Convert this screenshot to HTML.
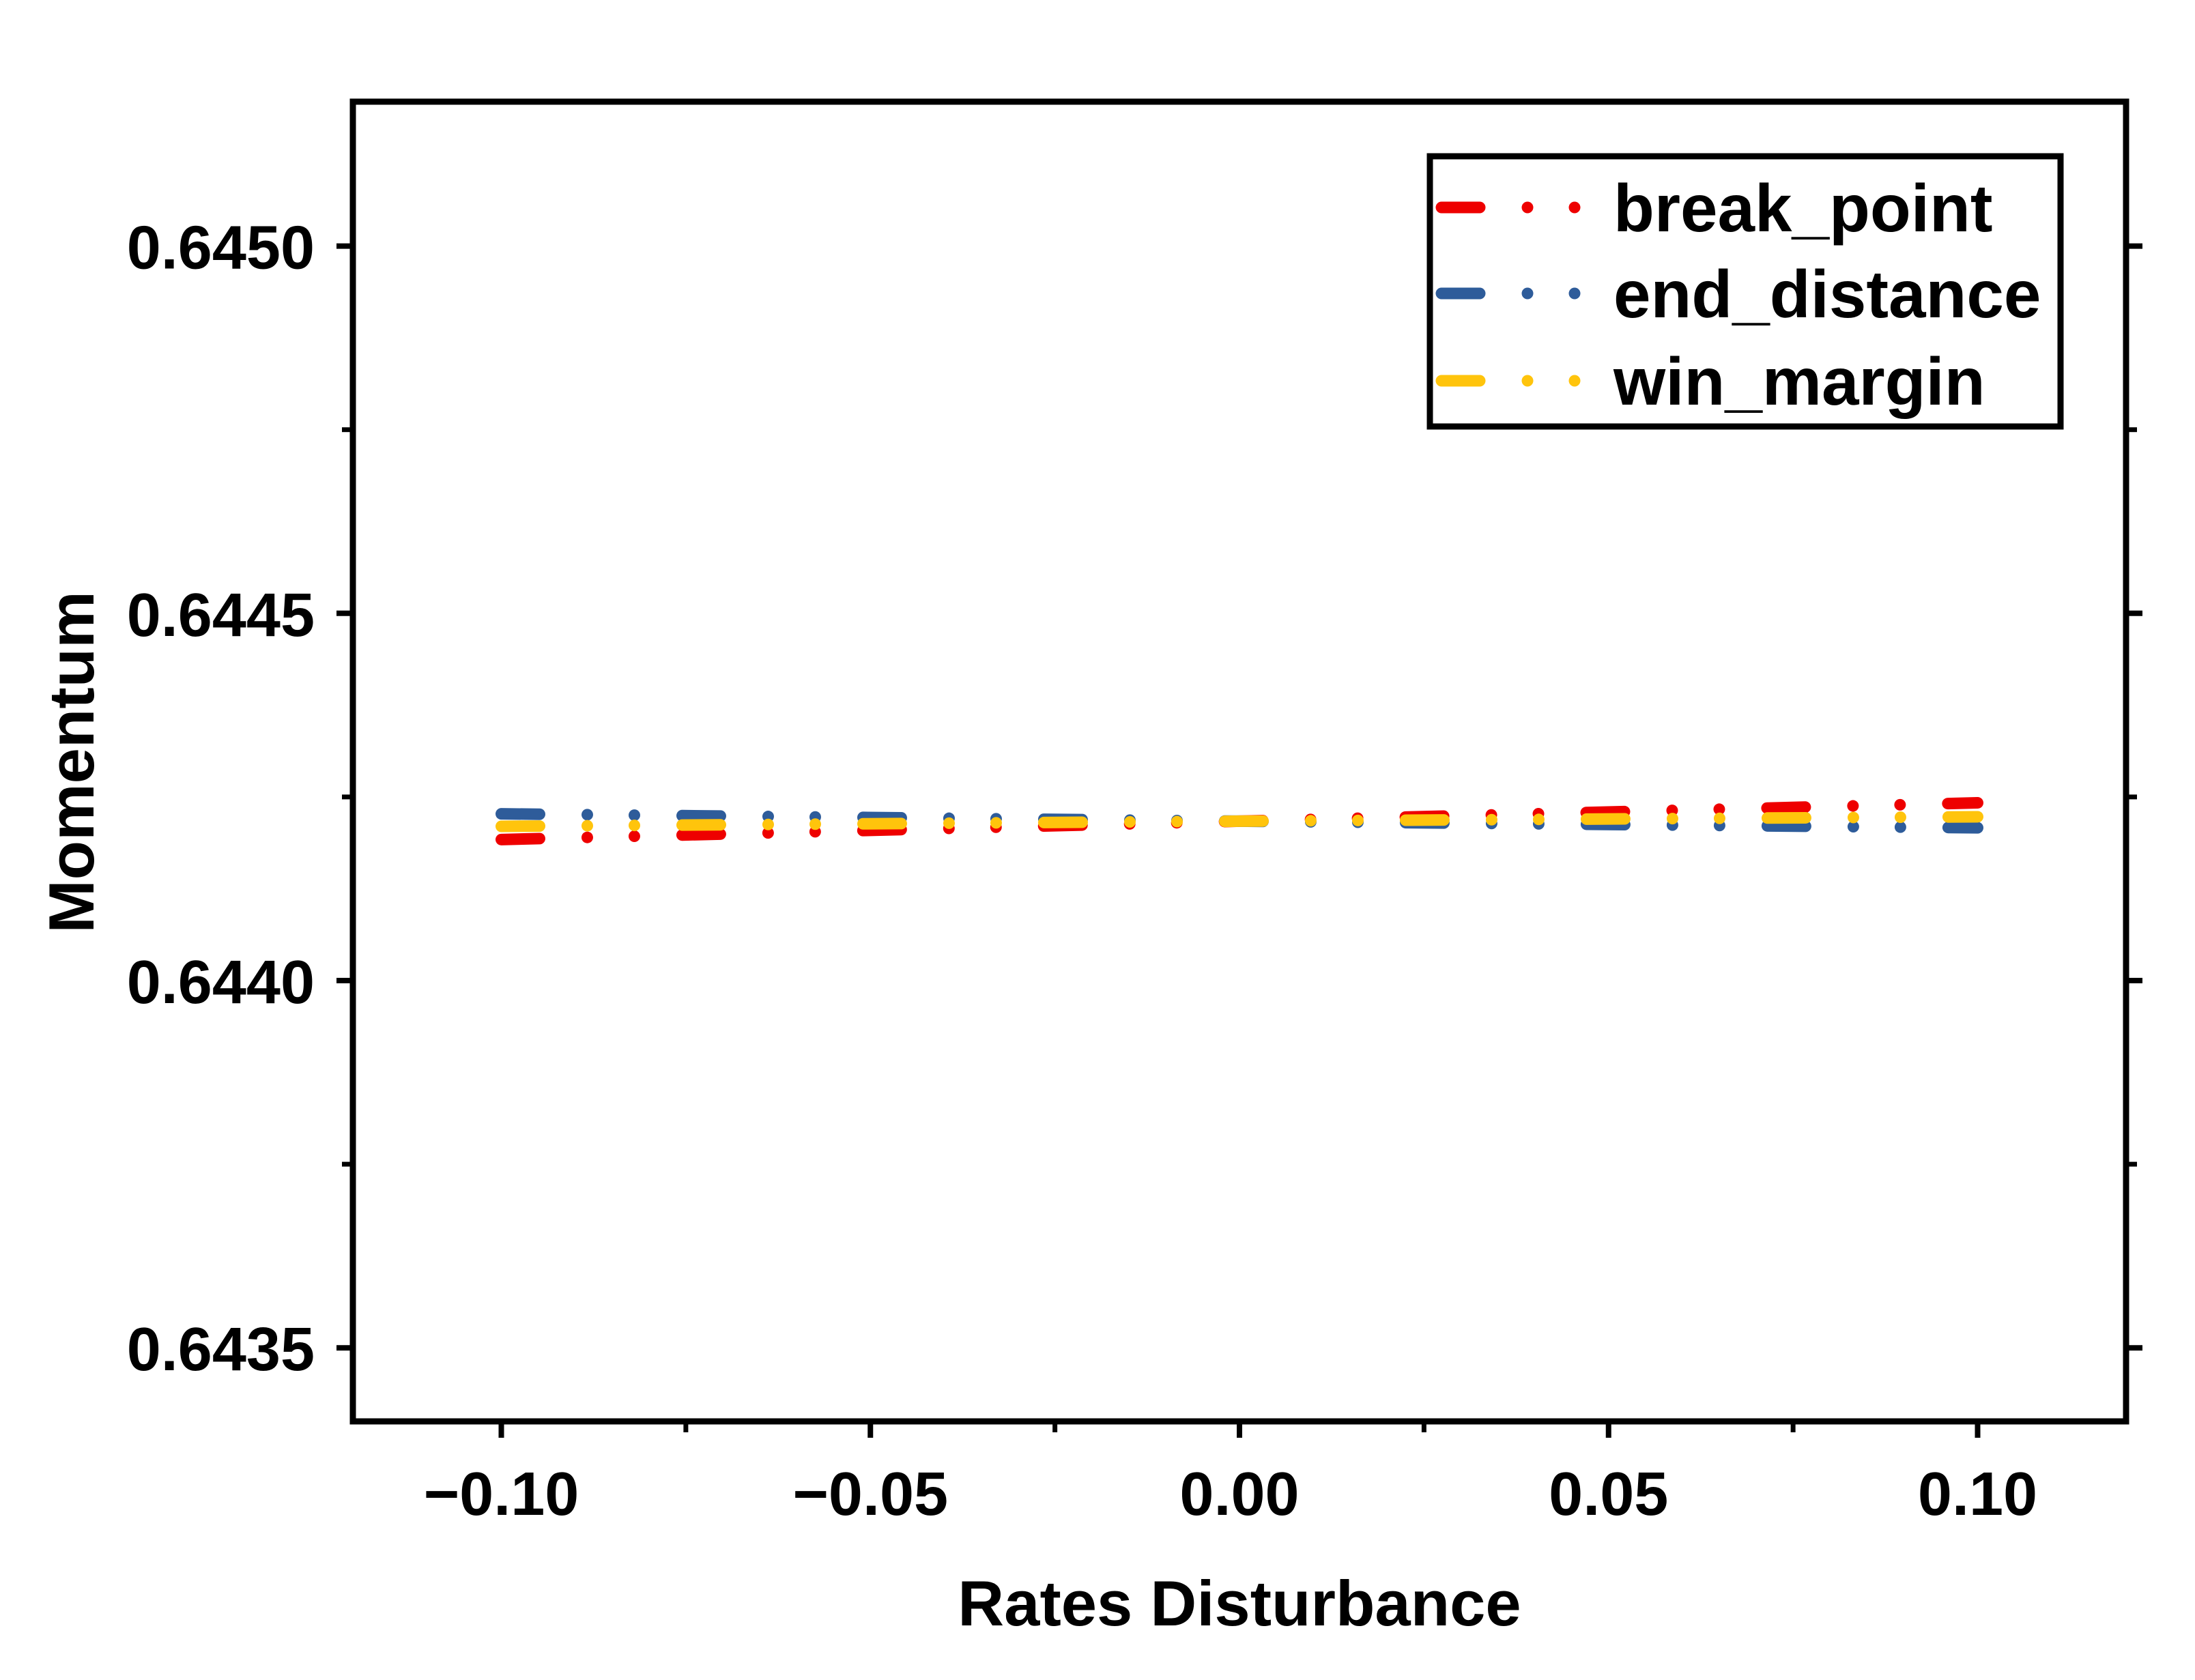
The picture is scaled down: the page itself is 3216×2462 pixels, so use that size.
<!DOCTYPE html>
<html><head><meta charset="utf-8"><style>
html,body{margin:0;padding:0;background:#fff}
svg{display:block}
text{font-family:"Liberation Sans",Arial,sans-serif;font-weight:bold;fill:#000}
</style></head><body>
<svg id="chart" width="3216" height="2462" viewBox="0 0 3216 2462" xmlns="http://www.w3.org/2000/svg">
<g id="ticks"></g>
<g id="series"></g>
<rect x="517" y="149" width="2598" height="1934" fill="none" stroke="#000" stroke-width="9"/>
<text x="1816" y="2382" font-size="94" text-anchor="middle">Rates Disturbance</text>
<text x="0" y="0" font-size="94" text-anchor="middle" transform="translate(137,1117) rotate(-90)">Momentum</text>
<g>
<rect x="2095" y="229" width="924" height="396" fill="#fff" stroke="#000" stroke-width="9"/>
<g id="legend-entries"></g>
</g>
</svg>
<script>
const xValues = [-0.1, 0.0, 0.1];
const seriesNames = ["break_point", "end_distance", "win_margin"];
const breakPoint = [0.644192, 0.644217, 0.644242];
const endDistance = [0.644227, 0.644217, 0.644208];
const winMargin = [0.644210, 0.644217, 0.644223];
const xTicks = [-0.10, -0.05, 0.00, 0.05, 0.10];
const xTickLabels = ["\u22120.10", "\u22120.05", "0.00", "0.05", "0.10"];
const yTicks = [0.6435, 0.6440, 0.6445, 0.6450];
const yTickLabels = ["0.6435", "0.6440", "0.6445", "0.6450"];

const NS = "http://www.w3.org/2000/svg";
const colors = ["#ee0000", "#2e5c9a", "#ffc40c"];
const allSeries = [breakPoint, endDistance, winMargin];
function xs(v){ return 1816 + v * 10815; }
function ys(v){ return 1437 - (v - 0.6440) * 1076400; }
const dash = "56 70 0 69 0 70";

const tg = document.getElementById("ticks");
function line(parent,x1,y1,x2,y2,c,w,name){
  const l = document.createElementNS(NS,"line");
  l.setAttribute("x1",x1);l.setAttribute("y1",y1);l.setAttribute("x2",x2);l.setAttribute("y2",y2);
  l.setAttribute("stroke",c);l.setAttribute("stroke-width",w);
  
  
  parent.appendChild(l); return l;
}
function text(parent,x,y,s,anchor,size,name){
  const t = document.createElementNS(NS,"text");
  t.setAttribute("x",x);t.setAttribute("y",y);t.setAttribute("font-size",size);t.setAttribute("text-anchor",anchor);
  t.textContent = s;
  
  
  parent.appendChild(t); return t;
}
for (let i = 0; i < xTicks.length; i++) {
  const x = xs(xTicks[i]);
  line(tg, x, 2083, x, 2107, "#000", 8, "x-tick");
  text(tg, x, 2220, xTickLabels[i], "middle", 90, "x-tick-label");
  if (i < xTicks.length - 1) {
    const xm = xs((xTicks[i] + xTicks[i+1]) / 2);
    line(tg, xm, 2083, xm, 2099, "#000", 7, "x-minor-tick");
  }
}
for (let i = 0; i < yTicks.length; i++) {
  const y = ys(yTicks[i]);
  line(tg, 493, y, 517, y, "#000", 8, "y-tick");
  line(tg, 3115, y, 3139, y, "#000", 8, "y-tick-right");
  text(tg, 461, y + 33, yTickLabels[i], "end", 90, "y-tick-label");
  if (i < yTicks.length - 1) {
    const ym = ys((yTicks[i] + yTicks[i+1]) / 2);
    line(tg, 501, ym, 517, ym, "#000", 7, "y-minor-tick");
    line(tg, 3115, ym, 3131, ym, "#000", 7, "y-minor-tick-right");
  }
}
const sg = document.getElementById("series");
for (let s = 0; s < allSeries.length; s++) {
  const p = document.createElementNS(NS, "polyline");
  p.setAttribute("points", xValues.map((x, i) => xs(x) + "," + ys(allSeries[s][i])).join(" "));
  p.setAttribute("fill", "none");
  p.setAttribute("stroke", colors[s]);
  p.setAttribute("stroke-width", 17);
  p.setAttribute("stroke-linecap", "round");
  p.setAttribute("stroke-dasharray", dash);
  
  
  sg.appendChild(p);
}
const lg = document.getElementById("legend-entries");
const legY = [304, 430, 558];
for (let s = 0; s < seriesNames.length; s++) {
  const g = document.createElementNS(NS, "g");
  
  
  const l = line(g, 2112, legY[s], 2327, legY[s], colors[s], 17, "legend-swatch");
  l.setAttribute("stroke-linecap", "round");
  l.setAttribute("stroke-dasharray", dash);
  text(g, 2364, legY[s] + 35, seriesNames[s], "start", 98, "legend-label");
  lg.appendChild(g);
}
</script>
</body></html>
